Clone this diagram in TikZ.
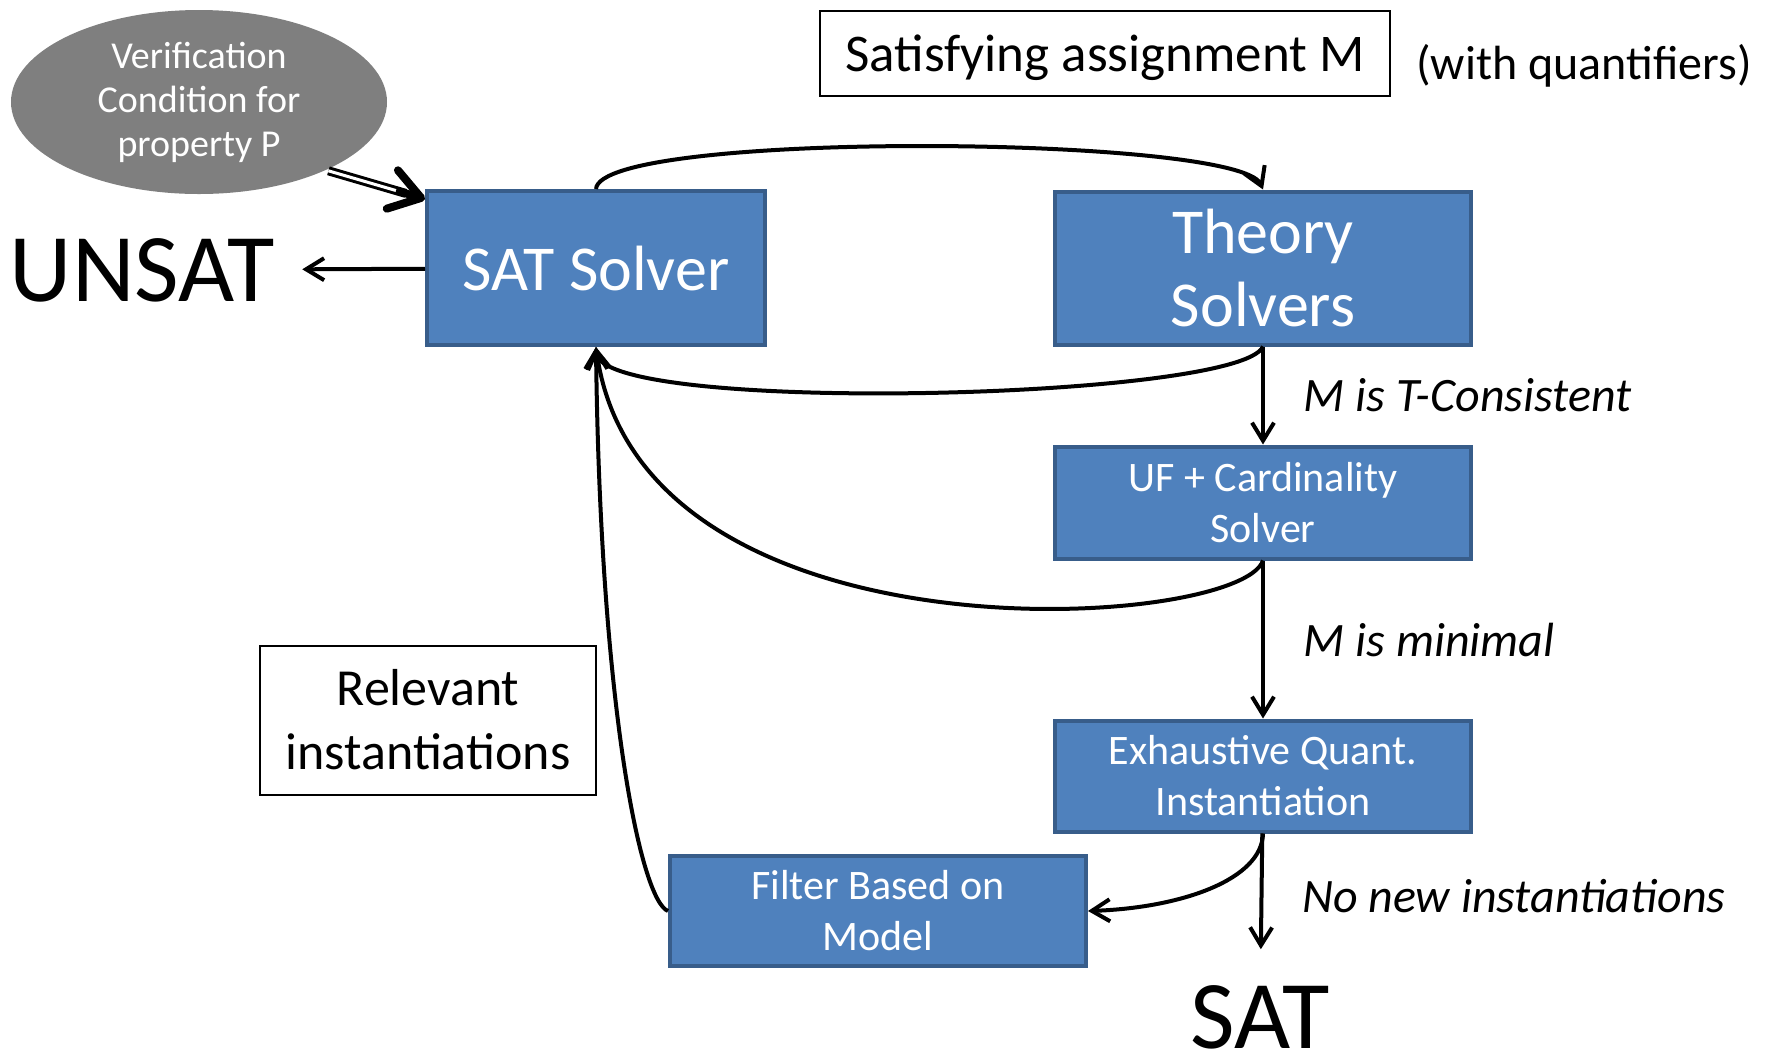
\documentclass[tikz,border=0pt]{standalone}
\usepackage{fontspec}
\setmainfont{Carlito}
\usetikzlibrary{positioning,shapes,arrows.meta}

\definecolor{boxblue}{HTML}{4F81BD}
\definecolor{boxedge}{HTML}{385D8A}
\definecolor{vcgray}{HTML}{7F7F7F}

\newcommand{\fsz}[2]{\fontsize{#1}{#2}\selectfont}

\begin{document}
\begin{tikzpicture}[
  x=0.5pt, y=-0.5pt,
  line width=2pt,
  >={Straight Barb[length=9pt,width=11pt]},
  solver/.style={draw=boxedge,fill=boxblue,text=white,align=center,minimum width=208pt},
  plainbox/.style={draw,line width=1pt,align=center},
  vcond/.style={ellipse,fill=vcgray,text=white,align=center,inner sep=0pt,font=\fsz{19}{22}},
  lbl/.style={font=\fsz{24}{29}\itshape},
  result/.style={font=\fsz{48.5}{58}},
]
\useasboundingbox (0,0) rectangle (1767,1057);

\node[vcond,minimum width=188pt,minimum height=92pt] (vc) at (199,102) {Verification\\Condition for\\property P};
\node[solver,minimum width=169pt,minimum height=77pt,font=\fsz{32}{36.5}] (sat) at (596,268) {SAT Solver};
\node[solver,minimum height=76.5pt,font=\fsz{32}{36.5},right=143pt of sat] (theory) {Theory\\Solvers};
\node[solver,minimum height=56pt,font=\fsz{21}{25.5},below=49pt of theory] (uf) {UF + Cardinality\\Solver};
\node[solver,minimum height=55.5pt,font=\fsz{21}{25.5},below=79pt of uf] (exh) {Exhaustive Quant.\\Instantiation};
\node[solver,minimum height=55pt,font=\fsz{21}{25.5}] (filter) at (878,911) {Filter Based on\\Model};

\node[result,inner sep=13pt] (unsat) at (142,270) {UNSAT};
\node[result,inner sep=2pt] (satres) at (1260,1017) {SAT};
\node[plainbox,minimum width=285pt,minimum height=42.5pt,font=\fsz{26.5}{32},text height=24pt,text depth=5.5pt] (assign) at (1105,53) {Satisfying assignment M};
\node[font=\fsz{24}{29}] (quant) at (1584,66) {(with quantifiers)};
\node[plainbox,minimum width=168pt,minimum height=74.5pt,font=\fsz{26}{32}] (relevant) at (428,720) {Relevant\\instantiations};

% double arrow into the SAT solver
\coordinate (vcend) at ([yshift=-5pt]sat.north west);
\path (vc.-28) -- (vcend) coordinate[pos=0.7] (vctip);
\draw[double,double distance=1.5pt,line width=1.5pt,shorten >=10pt] (vc.-28) -- (vcend);
\draw[line width=4pt,-{Straight Barb[length=15pt,width=20pt,round]}] (vctip) -- (vcend);

\path (sat) edge[->] (unsat)
(theory) edge[->] node[lbl,right=16pt] (lcons) {M is T-Consistent} (uf)
(uf) edge[->] node[lbl,right=16pt] (lmin) {M is minimal} (exh)
(exh) edge[->,shorten >=15pt] node[lbl,right=16pt,pos=0.43] (lnone) {No new instantiations} (satres);

\draw[->] (sat.north) .. controls (600,130) and (1240,135) .. (theory.north);
\draw[->] (theory.south) .. controls (1240,400) and (600,415) .. (sat.south);
\draw[->] (uf.south) .. controls (1240,630) and (640,670) .. (sat.south);
\draw[->] (exh.south) .. controls (1262,880) and (1180,908) .. (filter.east);
\draw[->] (filter.west) .. controls (640,900) and (600,700) .. (sat.south);
\end{tikzpicture}
\end{document}
